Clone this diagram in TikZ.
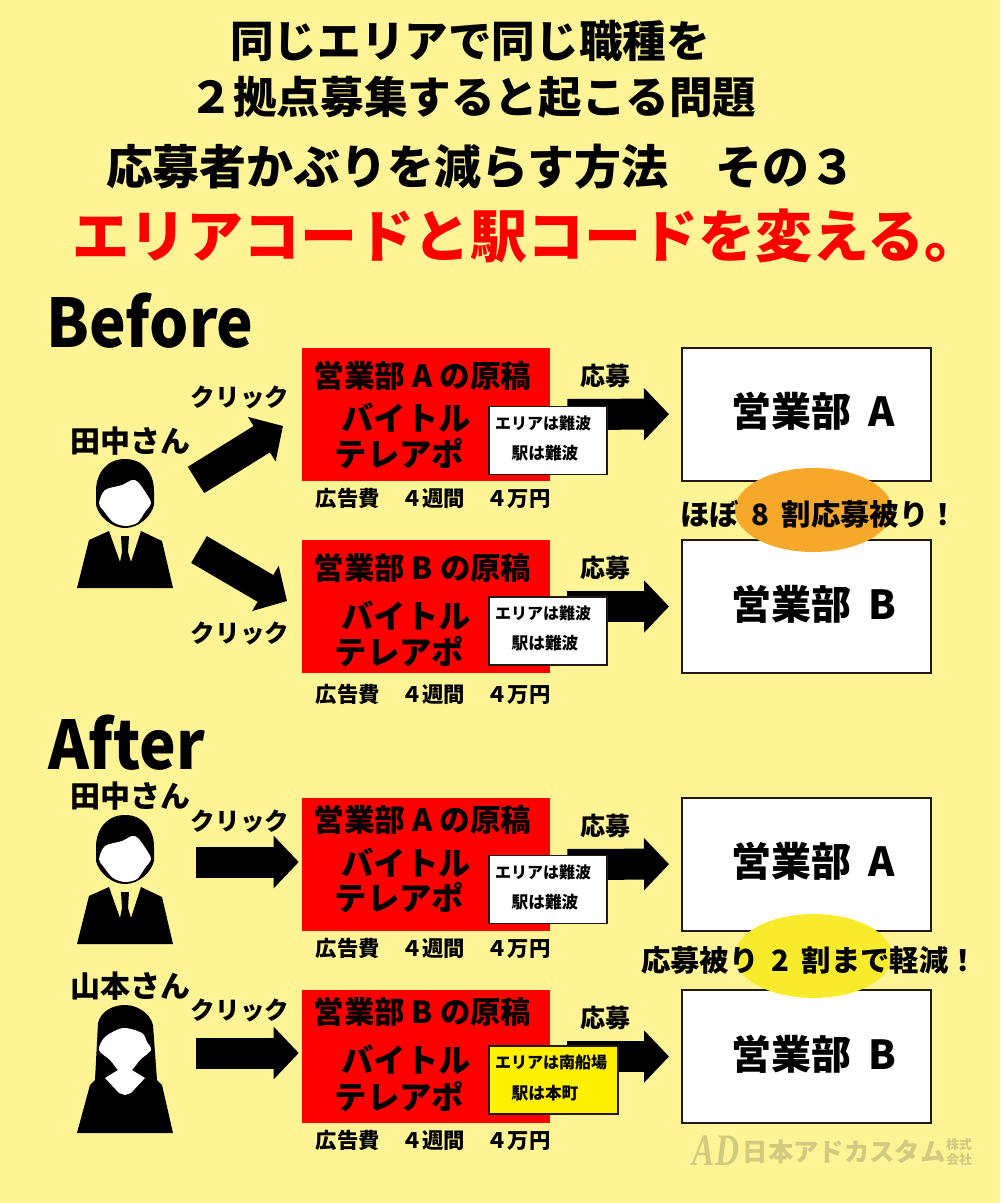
\documentclass[tikz,border=0pt]{standalone}
\usepackage{fontspec}
\setmainfont{Noto Sans CJK JP}
\newfontfamily\logoserif{Liberation Serif}
\usetikzlibrary{arrows.meta,shapes.geometric}

\definecolor{pagecream}{HTML}{FEF495}
\definecolor{titlered}{HTML}{FF0000}
\definecolor{adred}{HTML}{FF0000}
\definecolor{noteyellow}{HTML}{FFF000}
\definecolor{ovalorange}{HTML}{F6A82B}
\definecolor{ovalyellow}{HTML}{F8EB2C}
\definecolor{logoolive}{HTML}{D2CA7E}
\definecolor{rimdark}{HTML}{231815}

\newcommand{\jpsize}[1]{\fontsize{#1}{#1}\selectfont\bfseries}

\tikzset{
  txt/.style={inner sep=0pt, text=black, font=\jpsize{#1}},
  adbox/.style={rectangle, fill=adred, inner sep=0pt, minimum width=186pt, minimum height=99.75pt},
  deptbox/.style={rectangle, draw=rimdark, line width=1.5pt, fill=white, inner sep=0pt, minimum width=186.75pt, minimum height=99.75pt},
  notebox/.style={rectangle, draw=rimdark, line width=1.2pt, fill=white, inner sep=0pt, minimum width=88.5pt, minimum height=51pt},
  bigarrow/.style={draw=black, line width=23.25pt, -{Triangle[length=18.75pt,width=38.25pt]}},
  overlapoval/.style={ellipse, inner sep=0pt, minimum width=118pt, minimum height=63pt},
  manicon/.pic={
    \fill[black] (48,0) .. controls (30,0) and (19,14) .. (19,32) -- (19,46) .. controls (22,58) and (35,69) .. (48,69) .. controls (61,69) and (74,58) .. (77,46) -- (77,32) .. controls (77,14) and (66,0) .. (48,0) -- cycle;
    \fill[white] plot[smooth cycle] coordinates {(22,44) (28,31) (45,26) (55,21) (61,23) (69,34) (74,44) (68,53) (60,64) (48,67) (36,63) (26,51)};
    \fill[black] (0,129) -- (12,81) -- (32,72) -- (43,103) -- (45,93) -- (44,77) -- (52,77) -- (51,93) -- (54,103) -- (64,72) -- (85,82) -- (96,129) -- cycle;
  },
  womanicon/.pic={
    \fill[black] (0,128) -- (13,80) -- (18,75) -- (21,18) .. controls (24,6) and (36,0) .. (48,0) .. controls (60,0) and (73,8) .. (76,20) -- (80,75) -- (85,80) -- (96,128) -- cycle;
    \fill[white] plot[smooth cycle] coordinates {(22,45) (28,32) (46,23) (65,28) (70,37) (74,45) (63,55) (55,65) (48,68) (41,65) (33,55)};
    \fill[white] (41,65) -- (55,65) -- (68,73) -- (54,88) -- (48,90) -- (42,88) -- (28,73) -- cycle;
  },
}

\begin{document}
\begin{tikzpicture}[x=0.75pt, y=-0.75pt]

\path[use as bounding box, fill=pagecream] (0,0) rectangle (1000,1203);

% Titles
\draw (470,41) node [txt=32.7] (titleOne) {同じエリアで同じ職種を};
\draw (473,97) node [txt=32.7] (titleTwo) {２拠点募集すると起こる問題};
\draw (481,167) node [txt=35.2] (titleThree) {応募者かぶりを減らす方法　その３};
\draw (527,236) node [txt=42.7, text=titlered] (titleRed) {エリアコードと駅コードを変える。};
\draw (150,321) node [txt=53] (beforeLabel) {\scalebox{0.875}[0.95]{Before}};
\draw (127,743) node [txt=53] (afterLabel) {\scalebox{0.875}[0.95]{After}};

% People
\draw (130,441) node [txt=22.5] (tanakaOne) {田中さん};
\draw (130,796) node [txt=22.5] (tanakaTwo) {田中さん};
\draw (130,986) node [txt=22.5] (yamamoto) {山本さん};
\pic at (77,459) {manicon};
\pic at (77,815) {manicon};
\pic at (77,1005) {womanicon};

% Boxes
\draw (426,414.5) node [adbox] (adA) {};
\draw (426,606.5) node [adbox] (adB) {};
\draw (426,864.5) node [adbox] (adC) {};
\draw (426,1056.5) node [adbox] (adD) {};
\draw (806.5,414) node [deptbox] (deptA) {};
\draw (806.5,606.5) node [deptbox] (deptB) {};
\draw (806.5,864) node [deptbox] (deptC) {};
\draw (806.5,1056.5) node [deptbox] (deptD) {};

% Free ends of the click arrows
\coordinate (startA) at (196,480);
\coordinate (endA) at (283,426);
\coordinate (startB) at (199,549.5);
\coordinate (endB) at (287,601);
\coordinate (startC) at (196,862);
\coordinate (startD) at (196,1053);

% Lines
\draw [bigarrow] (startA)--(endA);
\draw [bigarrow] (startB)--(endB);
\draw [bigarrow, shorten >=2.25pt] (startC)--(startC -| adC.west);
\draw [bigarrow, shorten >=2.25pt] (startD)--(startD -| adD.west);
\draw [bigarrow, shorten <=12.75pt, shorten >=9pt] (adA)--(deptA);
\draw [bigarrow, shorten <=12.75pt, shorten >=9pt] (adB)--(deptB);
\draw [bigarrow, shorten <=12.75pt, shorten >=9pt] (adC)--(deptC);
\draw [bigarrow, shorten <=12.75pt, shorten >=9pt] (adD)--(deptD);

% Notes
\draw (548,440.5) node [notebox] (noteA) {};
\draw (548,631) node [notebox] (noteB) {};
\draw (548,889.5) node [notebox] (noteC) {};
\draw (553.5,1080) node [notebox, fill=noteyellow, minimum width=96.75pt] (noteD) {};
\draw (543,423) node [txt=12] (noteAarea) {エリアは難波};
\draw (545,453) node [txt=12.5] (noteAstation) {駅は難波};
\draw (543,613) node [txt=12] (noteBarea) {エリアは難波};
\draw (545,643) node [txt=12.5] (noteBstation) {駅は難波};
\draw (543,872) node [txt=12] (noteCarea) {エリアは難波};
\draw (545,902) node [txt=12.5] (noteCstation) {駅は難波};
\draw (551,1062) node [txt=12] (noteDarea) {エリアは南船場};
\draw (545,1093) node [txt=12.5] (noteDstation) {駅は本町};

% Ad texts
\draw (422.5,376) node [txt=23] (adAtitle) {営業部 A の原稿};
\draw (406,418) node [txt=24.2] (adAjobOne) {バイトル};
\draw (399.5,454) node [txt=24.2] (adAjobTwo) {テレアポ};
\draw (433,498) node [txt=16] (adAcost) {広告費　４週間　４万円};
\draw (422.5,568) node [txt=22.8] (adBtitle) {営業部 B の原稿};
\draw (406,616) node [txt=24.2] (adBjobOne) {バイトル};
\draw (399.5,652) node [txt=24.2] (adBjobTwo) {テレアポ};
\draw (433,694) node [txt=16] (adBcost) {広告費　４週間　４万円};
\draw (422.5,820) node [txt=23] (adCtitle) {営業部 A の原稿};
\draw (406,863) node [txt=24.2] (adCjobOne) {バイトル};
\draw (399.5,898) node [txt=24.2] (adCjobTwo) {テレアポ};
\draw (433,948) node [txt=16] (adCcost) {広告費　４週間　４万円};
\draw (422.5,1012) node [txt=22.8] (adDtitle) {営業部 B の原稿};
\draw (406,1060) node [txt=24.2] (adDjobOne) {バイトル};
\draw (399.5,1097) node [txt=24.2] (adDjobTwo) {テレアポ};
\draw (433,1140) node [txt=16] (adDcost) {広告費　４週間　４万円};

% Arrow labels
\draw (240,397) node [txt=18.4] (clickA) {クリック};
\draw (240,633) node [txt=18.4] (clickB) {クリック};
\draw (240,821) node [txt=18.4] (clickC) {クリック};
\draw (240,1010) node [txt=18.4] (clickD) {クリック};
\draw (605,376) node [txt=18.75] (applyA) {応募};
\draw (605,568) node [txt=18.75] (applyB) {応募};
\draw (605,826) node [txt=18.75] (applyC) {応募};
\draw (605,1018) node [txt=18.75] (applyD) {応募};

% Departments
\draw (813.5,411) node [txt=30] (deptAname) {営業部 \hspace{6pt}A};
\draw (813.5,604) node [txt=30] (deptBname) {営業部 \hspace{6pt}B};
\draw (813.5,861) node [txt=30] (deptCname) {営業部 \hspace{6pt}A};
\draw (813.5,1054) node [txt=30] (deptDname) {営業部 \hspace{6pt}B};

% Overlap ovals
\draw (813.5,510) node [overlapoval, fill=ovalorange] (ovalBefore) {};
\draw (813.5,956) node [overlapoval, fill=ovalyellow] (ovalAfter) {};
\draw (819,514) node [txt=22] (overlapBefore) {ほぼ \hspace{4.5pt}8 \hspace{4.5pt}割応募被り！};
\draw (809.5,960) node [txt=22] (overlapAfter) {応募被り \hspace{4.5pt}2 \hspace{4.5pt}割まで軽減！};

% Logo
\draw (716,1151) node [inner sep=0pt, text=logoolive, font=\logoserif\fontsize{25}{25}\selectfont\bfseries\itshape] (logoMark) {\scalebox{1}[1.35]{AD}};
\draw (844,1152) node [txt=19, text=logoolive] (logoName) {日本アドカスタム};
\draw (959,1152) node [inner sep=0pt, align=center, text=logoolive, font=\fontsize{9.5}{11}\selectfont\bfseries] (logoKind) {株式\\会社};

\end{tikzpicture}
\end{document}
